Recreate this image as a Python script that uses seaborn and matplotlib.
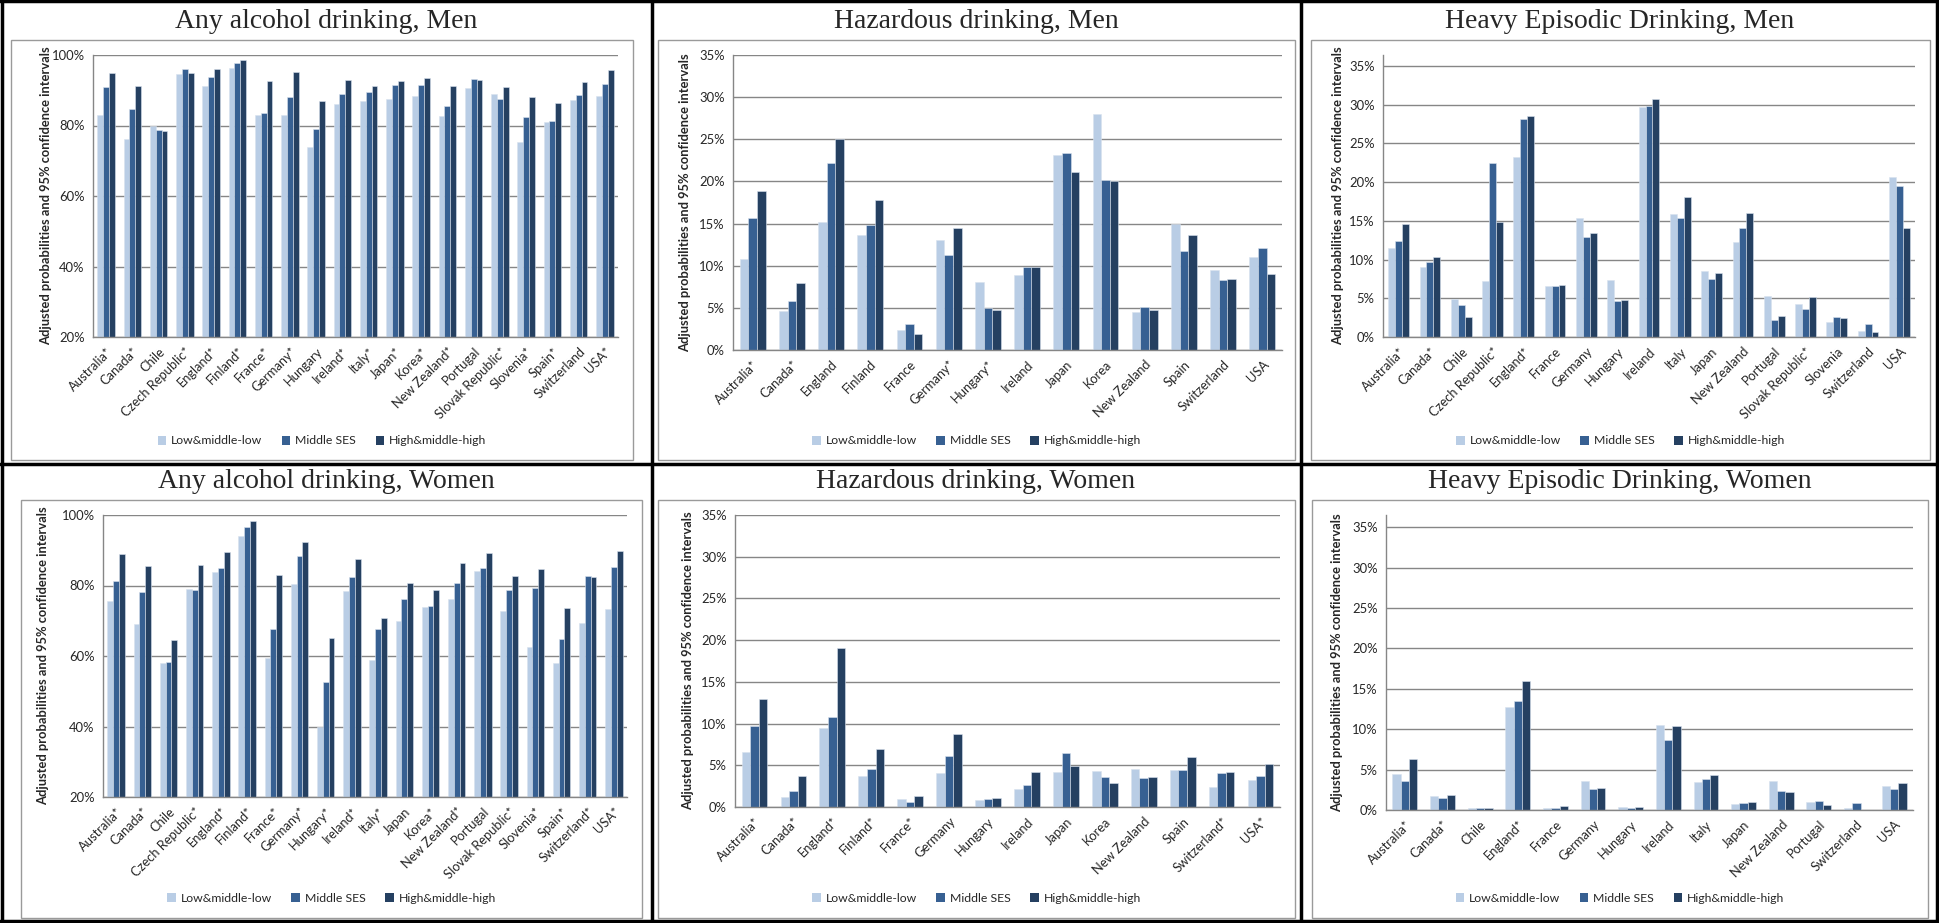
import numpy as np
import pandas as pd
import seaborn as sns
import matplotlib.pyplot as plt
from matplotlib.patches import Rectangle, Patch
from matplotlib.lines import Line2D

W, H = 1939, 923

ses = ['Low&middle-low', 'Middle SES', 'High&middle-high']
ses_colors = ['#B9CDE5', '#376092', '#254061']

# Any alcohol drinking, Men
any_men_countries = ['Australia*', 'Canada*', 'Chile', 'Czech Republic*', 'England*', 'Finland*',
                     'France*', 'Germany*', 'Hungary', 'Ireland*', 'Italy*', 'Japan*', 'Korea*',
                     'New Zealand*', 'Portugal', 'Slovak Republic*', 'Slovenia*', 'Spain*',
                     'Switzerland', 'USA*']
any_men_low = [83.1, 76.3, 80.0, 94.5, 91.2, 96.2, 82.9, 83.1, 73.9, 86.0, 86.9, 87.6, 88.3, 82.6,
               90.5, 88.9, 75.4, 80.9, 87.2, 88.3]
any_men_mid = [91.0, 84.8, 78.8, 95.9, 93.7, 97.8, 83.6, 88.1, 79.0, 89.0, 89.5, 91.4, 91.5, 85.6,
               93.3, 87.4, 82.5, 81.4, 88.6, 91.9]
any_men_high = [94.8, 91.3, 78.5, 95.0, 95.9, 98.5, 92.7, 95.2, 86.9, 93.0, 91.2, 92.5, 93.4, 91.1,
                93.0, 91.0, 88.0, 86.4, 92.2, 95.8]

# Hazardous drinking, Men
haz_men_countries = ['Australia*', 'Canada*', 'England', 'Finland', 'France', 'Germany*', 'Hungary*',
                     'Ireland', 'Japan', 'Korea', 'New Zealand', 'Spain', 'Switzerland', 'USA']
haz_men_low = [10.8, 4.6, 15.2, 13.7, 2.4, 13.0, 8.1, 8.9, 23.1, 28.0, 4.5, 14.9, 9.5, 11.0]
haz_men_mid = [15.7, 5.8, 22.2, 14.8, 3.1, 11.3, 4.95, 9.85, 23.4, 20.2, 5.1, 11.7, 8.3, 12.1]
haz_men_high = [18.9, 7.9, 25.0, 17.8, 1.9, 14.5, 4.7, 9.9, 21.1, 20.0, 4.8, 13.7, 8.4, 9.05]

# Heavy Episodic Drinking, Men
hed_men_countries = ['Australia*', 'Canada*', 'Chile', 'Czech Republic*', 'England*', 'France',
                     'Germany', 'Hungary', 'Ireland', 'Italy', 'Japan', 'New Zealand', 'Portugal',
                     'Slovak Republic*', 'Slovenia', 'Switzerland', 'USA']
hed_men_low = [11.55, 9.05, 4.96, 7.2, 23.2, 6.6, 15.3, 7.3, 29.7, 15.9, 8.5, 12.3, 5.26, 4.2, 2.0,
               0.8, 20.7]
hed_men_mid = [12.4, 9.65, 4.1, 22.4, 28.2, 6.55, 12.9, 4.65, 29.8, 15.3, 7.55, 14.05, 2.2, 3.6, 2.6,
               1.7, 19.5]
hed_men_high = [14.6, 10.3, 2.6, 14.8, 28.5, 6.7, 13.4, 4.8, 30.7, 18.1, 8.2, 16.0, 2.67, 5.2, 2.4,
                0.7, 14.1]

# Any alcohol drinking, Women
any_wom_countries = ['Australia*', 'Canada*', 'Chile', 'Czech Republic*', 'England*', 'Finland*',
                     'France*', 'Germany*', 'Hungary*', 'Ireland*', 'Italy*', 'Japan', 'Korea*',
                     'New Zealand*', 'Portugal', 'Slovak Republic*', 'Slovenia*', 'Spain*',
                     'Switzerland*', 'USA*']
any_wom_low = [75.7, 69.1, 58.0, 79.1, 83.9, 94.0, 59.3, 80.4, 40.0, 78.5, 59.0, 70.0, 74.0, 76.1,
               84.1, 72.8, 62.5, 58.0, 69.3, 73.3]
any_wom_mid = [81.3, 78.2, 58.2, 78.6, 85.0, 96.5, 67.8, 88.5, 52.5, 82.4, 67.8, 76.1, 74.2, 80.8,
               85.0, 78.7, 79.4, 64.8, 82.6, 85.2]
any_wom_high = [88.9, 85.6, 64.4, 85.8, 89.6, 98.4, 83.0, 92.2, 65.1, 87.4, 70.9, 80.6, 78.7, 86.3,
                89.1, 82.7, 84.8, 73.5, 82.3, 89.8]

# Hazardous drinking, Women
haz_wom_countries = ['Australia*', 'Canada*', 'England*', 'Finland*', 'France*', 'Germany', 'Hungary',
                     'Ireland', 'Japan', 'Korea', 'New Zealand', 'Spain', 'Switzerland*', 'USA*']
haz_wom_low = [6.6, 1.24, 9.5, 3.75, 0.9, 4.1, 0.88, 2.15, 4.19, 4.3, 4.5, 4.43, 2.35, 3.27]
haz_wom_mid = [9.66, 1.9, 10.8, 4.55, 0.6, 6.07, 0.96, 2.67, 6.46, 3.63, 3.43, 4.47, 4.07, 3.71]
haz_wom_high = [12.9, 3.7, 19.0, 6.9, 1.36, 8.74, 1.08, 4.19, 4.87, 2.91, 3.63, 5.99, 4.19, 5.19]

# Heavy Episodic Drinking, Women
hed_wom_countries = ['Australia*', 'Canada*', 'Chile', 'England*', 'France', 'Germany', 'Hungary',
                     'Ireland', 'Italy', 'Japan', 'New Zealand', 'Portugal', 'Switzerland', 'USA']
hed_wom_low = [4.5, 1.7, 0.3, 12.7, 0.3, 3.6, 0.35, 10.56, 3.43, 0.74, 3.55, 1.03, 0.25, 3.0]
hed_wom_mid = [3.6, 1.5, 0.2, 13.5, 0.3, 2.6, 0.3, 8.6, 3.88, 0.83, 2.31, 1.07, 0.9, 2.64]
hed_wom_high = [6.36, 1.8, 0.2, 16.0, 0.45, 2.7, 0.4, 10.44, 4.33, 0.99, 2.19, 0.66, 0.04, 3.38]

titles = ['Any alcohol drinking, Men', 'Hazardous drinking, Men', 'Heavy Episodic Drinking, Men',
          'Any alcohol drinking, Women', 'Hazardous drinking, Women', 'Heavy Episodic Drinking, Women']
ylabel = 'Adjusted probabilities and 95% confidence intervals'

tick_font = 'Lato'
grid_col = '#868686'


def frac(x0, y0, x1, y1):
    return [x0 / W, 1 - y1 / H, (x1 - x0) / W, (y1 - y0) / H]


def draw(ax, countries, low, mid, high, ylim, yticks):
    n = len(countries)
    df = pd.DataFrame({'country': countries * 3,
                       'ses': np.repeat(ses, n),
                       'value': low + mid + high})
    sns.barplot(data=df, x='country', y='value', hue='ses', hue_order=ses, order=countries,
                palette=ses_colors, saturation=1, width=0.66, errorbar=None, legend=False,
                edgecolor='#d9e2ee', linewidth=0.4, ax=ax)
    ax.set_ylim(*ylim)
    ax.set_xlim(-0.5, n - 0.5)
    ax.set_yticks(yticks)
    ax.set_yticklabels([f'{t}%' for t in yticks], fontsize=9.4, family=tick_font)
    ax.set_xticks(range(n))
    ax.set_xticklabels(countries, fontsize=9.3, family=tick_font, rotation=45, ha='right',
                       rotation_mode='anchor')
    ax.set_xticks(np.arange(n + 1) - 0.5, minor=True)
    ax.tick_params(axis='x', which='major', length=0, pad=6)
    ax.tick_params(axis='x', which='minor', length=4, color=grid_col, direction='out')
    ax.tick_params(axis='y', length=4, color=grid_col, direction='out', pad=2)
    ax.yaxis.grid(True, color=grid_col, linewidth=1)
    ax.set_axisbelow(True)
    for s in ['top', 'right']:
        ax.spines[s].set_visible(False)
    for s in ['left', 'bottom']:
        ax.spines[s].set_color(grid_col)
        ax.spines[s].set_linewidth(1)
    ax.set_xlabel('')
    ax.set_ylabel('')


sns.set_style('white')
plt.rcParams['font.family'] = ['Lato', 'DejaVu Sans']

fig = plt.figure(figsize=(W / 100, H / 100), dpi=100)

pct20 = [20, 40, 60, 80, 100]
pct35 = [0, 5, 10, 15, 20, 25, 30, 35]

panels = [
    (any_men_countries, any_men_low, any_men_mid, any_men_high, (20, 100), pct20,
     (93, 55, 618, 337), (11, 40, 633, 460), 46, 22, 441),
    (haz_men_countries, haz_men_low, haz_men_mid, haz_men_high, (0, 35), pct35,
     (733, 55, 1282, 350), (658, 40, 1295, 460), 685, 22, 441),
    (hed_men_countries, hed_men_low, hed_men_mid, hed_men_high, (0, 36.4), pct35,
     (1383, 55, 1915, 337), (1311, 40, 1930, 460), 1338, 22, 441),
    (any_wom_countries, any_wom_low, any_wom_mid, any_wom_high, (20, 100), pct20,
     (103, 515, 627, 797), (21, 500, 642, 918), 43, 482, 898),
    (haz_wom_countries, haz_wom_low, haz_wom_mid, haz_wom_high, (0, 35), pct35,
     (735, 515, 1280, 807), (658, 500, 1295, 918), 688, 482, 898),
    (hed_wom_countries, hed_wom_low, hed_wom_mid, hed_wom_high, (0, 36.5), pct35,
     (1386, 515, 1913, 810), (1312, 500, 1928, 918), 1337, 482, 898),
]

cell_centers = [326, 976, 1620]

for i, (c, lo, mi, hi, ylim, yt, rect, box, ylab_x, title_y, leg_y) in enumerate(panels):
    # chart frame
    bx0, by0, bx1, by1 = box
    fig.patches.append(Rectangle((bx0 / W, 1 - by1 / H), (bx1 - bx0) / W, (by1 - by0) / H,
                                 transform=fig.transFigure, fill=False, edgecolor='#9a9a9a',
                                 linewidth=1))
    ax = fig.add_axes(frac(*rect))
    draw(ax, c, lo, mi, hi, ylim, yt)
    # y label
    fig.text(ylab_x / W, 1 - ((rect[1] + rect[3]) / 2) / H, ylabel, rotation=90,
             ha='center', va='center', fontsize=9.3, fontweight='bold', family=tick_font)
    # title
    fig.text(cell_centers[i % 3] / W, 1 - title_y / H, titles[i], ha='center', va='center',
             fontsize=20, family='Liberation Serif')
    # legend
    handles = [Patch(facecolor=col, edgecolor='none') for col in ses_colors]
    fig.legend(handles, ses, loc='center', bbox_to_anchor=((bx0 + bx1) / 2 / W, 1 - leg_y / H),
               ncol=3, frameon=False, handlelength=0.7, handleheight=0.7,
               handletextpad=0.4, columnspacing=1.6, prop={'family': tick_font, 'size': 8.8})

# table borders
lw = 2.5
for x in [2, 652, 1301, 1937]:
    fig.add_artist(Line2D([x / W, x / W], [0, 1], color='black', linewidth=lw,
                          transform=fig.transFigure))
for y in [1, 464, 921]:
    fig.add_artist(Line2D([0, 1], [1 - y / H, 1 - y / H], color='black', linewidth=lw,
                          transform=fig.transFigure))

fig.savefig('out.png', dpi=100)
